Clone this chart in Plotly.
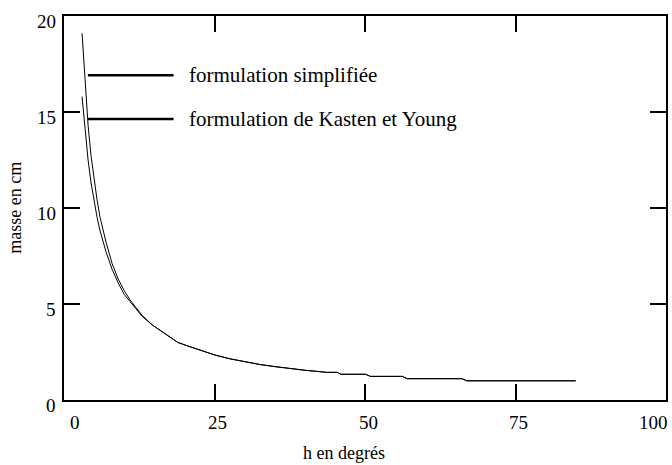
import plotly.graph_objects as go

# --- data ---
h_simplifiee = [3, 3.5, 4, 4.5, 5, 5.5, 6, 7, 8, 9, 10, 11, 12, 13, 14.7, 16.8, 18.9, 20.5, 22.5, 25, 27.5, 30,
                32.5, 35, 37.5, 40, 42, 43.6, 45.4, 46, 50.1, 50.9, 56.2, 57, 66.1, 66.9, 85]
m_simplifiee = [19.1, 16.4, 14.3, 12.7, 11.4, 10.4, 9.5, 8.2, 7.1, 6.3, 5.7, 5.2, 4.8, 4.4, 3.9, 3.45, 3.0, 2.82,
                2.6, 2.35, 2.15, 2.0, 1.85, 1.74, 1.63, 1.55, 1.49, 1.44, 1.44, 1.34, 1.34, 1.23, 1.23, 1.11,
                1.11, 1.0, 1.0]

h_kasten = [3, 3.5, 4, 4.5, 5, 5.5, 6, 7, 8, 9, 10, 11, 12, 13, 14.7, 16.8, 18.9, 20.5, 22.5, 25, 27.5, 30,
            32.5, 35, 37.5, 40, 42, 43.6, 45.4, 46, 50.1, 50.9, 56.2, 57, 66.1, 66.9, 85]
m_kasten = [15.8, 14.0, 12.5, 11.3, 10.3, 9.5, 8.8, 7.7, 6.8, 6.1, 5.5, 5.1, 4.7, 4.35, 3.9, 3.45, 3.0, 2.82,
            2.6, 2.35, 2.15, 2.0, 1.85, 1.74, 1.63, 1.55, 1.49, 1.44, 1.44, 1.34, 1.34, 1.23, 1.23, 1.11,
            1.11, 1.0, 1.0]

x_ticks = [0, 25, 50, 75, 100]
y_ticks = [0, 5, 10, 15, 20]
legend_labels = ["formulation simplifiée", "formulation de Kasten et Young"]
x_title = "h en degrés"
y_title = "masse en cm"

FONT = "Liberation Serif, Times New Roman, serif"

fig = go.Figure()
fig.add_trace(go.Scatter(x=h_simplifiee, y=m_simplifiee, mode="lines",
                         line=dict(color="black", width=1), name=legend_labels[0]))
fig.add_trace(go.Scatter(x=h_kasten, y=m_kasten, mode="lines",
                         line=dict(color="black", width=1), name=legend_labels[1]))

axis_common = dict(showgrid=False, zeroline=False, showline=True, linecolor="black", linewidth=1.5,
                   mirror="allticks", ticks="inside", ticklen=16, tickwidth=1.5, tickcolor="black",
                   showticklabels=False)
fig.update_xaxes(range=[0, 100], tickvals=x_ticks, **axis_common)
fig.update_yaxes(range=[0, 20], tickvals=y_ticks, **axis_common)

annotations = []
for v in x_ticks:
    if v == x_ticks[0]:
        xa, xs = "left", 4
    elif v == x_ticks[-1]:
        xa, xs = "right", 4
    else:
        xa, xs = "center", 3
    annotations.append(dict(x=v, y=0, xref="x", yref="paper", text=str(v), showarrow=False,
                            xanchor=xa, yanchor="top", xshift=xs, yshift=-10,
                            font=dict(family=FONT, size=19, color="black")))
for v in y_ticks:
    annotations.append(dict(x=0, y=v, xref="paper", yref="y", text=str(v), showarrow=False,
                            xanchor="right", yanchor="middle", xshift=-6, yshift=-5,
                            font=dict(family=FONT, size=19, color="black")))
annotations.append(dict(x=0.465, y=-0.138, xref="paper", yref="paper", text=x_title, showarrow=False,
                        xanchor="center", yanchor="middle", font=dict(family=FONT, size=18, color="black")))
annotations.append(dict(x=-0.082, y=0.5, xref="paper", yref="paper", text=y_title, showarrow=False,
                        textangle=-90, xanchor="center", yanchor="middle",
                        font=dict(family=FONT, size=18, color="black")))

shapes = []
for lbl, yp in zip(legend_labels, [0.846, 0.732]):
    shapes.append(dict(type="line", xref="paper", yref="paper", x0=0.0397, x1=0.182, y0=yp, y1=yp,
                       line=dict(color="black", width=2.5)))
    annotations.append(dict(x=0.205, y=yp, xref="paper", yref="paper", text=lbl, showarrow=False,
                            xanchor="left", yanchor="middle",
                            font=dict(family=FONT, size=21, color="black")))

fig.update_layout(width=672, height=465, margin=dict(l=64, r=4, t=16, b=65),
                  plot_bgcolor="white", paper_bgcolor="white", showlegend=False,
                  annotations=annotations, shapes=shapes)

fig.write_html("out.html", config={"displayModeBar": False},
               post_script="document.body.style.margin='0';")
